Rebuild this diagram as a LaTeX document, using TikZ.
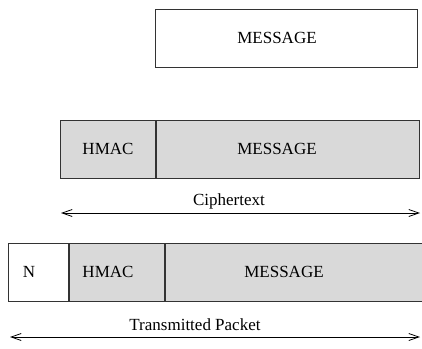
\documentclass[tikz,border=0pt]{standalone}
\usepackage{fontspec}
\setmainfont{Liberation Serif}
\usetikzlibrary{arrows.meta,positioning}

\begin{document}
\begin{tikzpicture}[x=1pt,y=-1pt,
  field/.style={draw=black!80,line width=0.8pt,minimum height=58pt,inner sep=0pt},
  enc/.style={field,fill=black!15},
  lbl/.style={font=\fontsize{17}{20}\selectfont},
  arrowspan/.style={{Straight Barb[length=10pt,width=7pt]}-{Straight Barb[length=10pt,width=7pt]},line width=0.8pt}]
  \useasboundingbox (0,0) rectangle (422,348);
  % plain message
  \node[field,minimum width=262pt,anchor=north west] (msg) at (155,9) {};
  \node[lbl] (tmsg) at (277,38) {MESSAGE};
  % HMAC + message, encrypted
  \node[enc,minimum width=95pt,anchor=north west] (mac) at (60,120) {};
  \node[enc,minimum width=263pt,right=0pt of mac] (cmsg) {};
  \node[lbl] (tmac) at (108,149) {HMAC};
  \node[lbl] (tcmsg) at (277,149) {MESSAGE};
  \coordinate (c1) at (61,213);
  \coordinate (c2) at (420,213);
  \draw[arrowspan] (c1) -- (c2);
  \node[lbl] (ctext) at (229,201) {Ciphertext};
  % transmitted packet
  \node[field,minimum width=60pt,anchor=north west] (nonce) at (8,243) {};
  \node[enc,minimum width=95pt,right=0pt of nonce] (pmac) {};
  \node[enc,minimum width=258pt,right=0pt of pmac] (pmsg) {};
  \node[lbl] (tn) at (29,272) {N};
  \node[lbl] (tpmac) at (108,272) {HMAC};
  \node[lbl] (tpmsg) at (284,272) {MESSAGE};
  \coordinate (p1) at (10,337);
  \coordinate (p2) at (420,337);
  \draw[arrowspan] (p1) -- (p2);
  \node[lbl] (ptext) at (195,325) {Transmitted Packet};
\end{tikzpicture}
\end{document}
